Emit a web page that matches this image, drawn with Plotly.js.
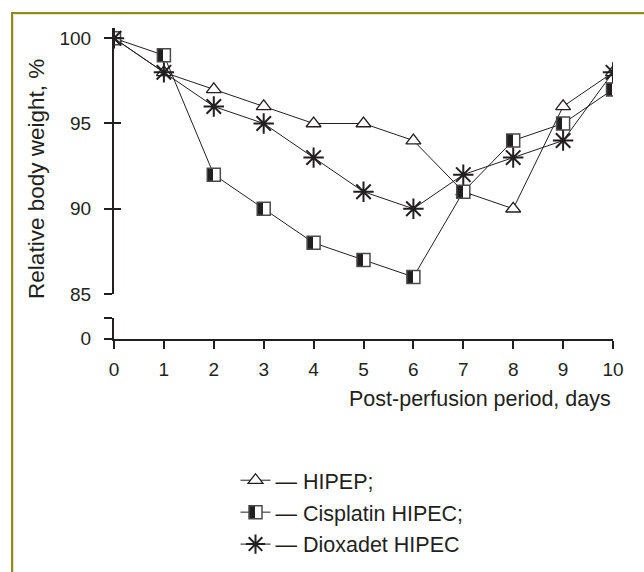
<!DOCTYPE html>
<html>
<head>
<meta charset="utf-8">
<script src="https://cdn.plot.ly/plotly-3.0.1.min.js"></script>
<style>
  html, body { margin:0; padding:0; background:#ffffff; }
  #wrap { position:relative; width:644px; height:572px; overflow:hidden; }
  #frame { position:absolute; left:11px; top:12px; width:700px; height:700px;
           border-top:2px solid #8d8a22; border-left:2px solid #8d8a22;
           box-shadow: inset 1px 1px 0 #ebe6c2; pointer-events:none; z-index:5; }
  #chart { position:absolute; left:0; top:0; width:644px; height:572px; }
</style>
</head>
<body>
<div id="wrap">
  <div id="chart"></div>
  <div id="frame"></div>
</div>
<script>
const days = [0,1,2,3,4,5,6,7,8,9,10];
const hipep = [100,98,97,96,95,95,94,91,90,96,98];
const cisplatin = [100,99,92,90,88,87,86,91,94,95,97];
const dioxadet = [100,98,96,95,93,91,90,92,93,94,98];
const seriesNames = ['HIPEP;', 'Cisplatin HIPEC;', 'Dioxadet HIPEC'];
const upperTicks = [85,90,95,100];
const lowerTicks = [0, 1];
const lowerTickText = ['0', ''];
const xTitle = 'Post-perfusion period, days';
const yTitle = 'Relative body weight, %';

const ink = '#231f20';
const FONT = 'Liberation Sans, Arial, sans-serif';

const traces = [
  {x: days, y: hipep, name: '— ' + seriesNames[0], mode: 'lines+markers', legendgroup: 'a',
   line: {color: ink, width: 1},
   marker: {symbol: 'triangle-up', size: 13, color: '#ffffff', line: {color: ink, width: 1.3}}},
  {x: days, y: cisplatin, name: '— ' + seriesNames[1], mode: 'lines+markers', legendgroup: 'b',
   line: {color: ink, width: 1},
   marker: {symbol: 'square', size: 13, color: ink, gradient: {type: 'horizontal', color: '#ffffff'},
            line: {color: '#4a4a4a', width: 1.5}}},
  {x: days, y: dioxadet, name: '— ' + seriesNames[2], mode: 'lines+markers', legendgroup: 'c',
   line: {color: ink, width: 1},
   marker: {symbol: 'asterisk-open', size: 17, color: ink, line: {color: ink, width: 2}}},
  // empty traces so that the broken-axis pieces and the crossing ticks get drawn
  {x: [], y: [], yaxis: 'y2', showlegend: false, hoverinfo: 'skip', mode: 'markers'},
  {x: [], y: [], yaxis: 'y3', showlegend: false, hoverinfo: 'skip', mode: 'markers'},
  {x: [], y: [], yaxis: 'y4', showlegend: false, hoverinfo: 'skip', mode: 'markers'}
];

const axisCommon = {showgrid: false, zeroline: false, showline: true, linecolor: ink, linewidth: 2,
  tickcolor: ink, tickwidth: 2, tickfont: {family: FONT, size: 19, color: ink}};
const innerTicks = {anchor: 'x', side: 'left', ticks: 'inside', ticklen: 7, tickwidth: 2, tickcolor: ink,
  showticklabels: false, showline: false, showgrid: false, zeroline: false};

// plot area spans pixel rows 28..565; axis pieces are placed by domain inside it
const layout = {
  width: 644, height: 572,
  margin: {l: 114, r: 31, t: 28, b: 7},
  paper_bgcolor: 'rgba(0,0,0,0)', plot_bgcolor: 'rgba(0,0,0,0)',
  font: {family: FONT, color: ink, size: 21},
  showlegend: true,
  legend: {x: 0.2435, xanchor: 'left', y: 0.19, yanchor: 'top',
           bgcolor: 'rgba(0,0,0,0)', font: {family: FONT, size: 21.5, color: ink}, tracegroupgap: 1},
  xaxis: Object.assign({}, axisCommon, {domain: [0,1], range: [0,10], anchor: 'y2',
    tickvals: days, ticks: 'outside', ticklen: 8, ticklabelstandoff: 5, title: {text: ''}}),
  yaxis: Object.assign({}, axisCommon, {domain: [0.50093, 1], range: [85, 100.6], anchor: 'x',
    tickvals: upperTicks, ticks: 'outside', ticklen: 8, ticklabelstandoff: 9, title: {text: ''}}),
  yaxis3: Object.assign({}, innerTicks, {overlaying: 'y', range: [85, 100.6], tickvals: upperTicks}),
  yaxis2: Object.assign({}, axisCommon, {domain: [0.4172, 0.45624], range: [0, 1], anchor: 'x',
    tickvals: lowerTicks, ticktext: lowerTickText, ticks: 'outside', ticklen: 8, ticklabelstandoff: 9}),
  yaxis4: Object.assign({}, innerTicks, {overlaying: 'y2', range: [0, 1], tickvals: [lowerTicks[1]]}),
  annotations: [
    {text: xTitle, xref: 'paper', yref: 'paper', x: 1, y: 0.3035, xanchor: 'right', yanchor: 'middle',
     showarrow: false, font: {family: FONT, size: 21.5, color: ink}},
    {text: yTitle, xref: 'paper', yref: 'paper', x: -0.1543, y: 0.7169, xanchor: 'center', yanchor: 'middle',
     textangle: -90, showarrow: false, font: {family: FONT, size: 22.5, color: ink}}
  ]
};

Plotly.newPlot('chart', traces, layout, {displayModeBar: false, staticPlot: true}).then(function(gd){
  // make the square markers half-filled (sharp split) instead of a smooth gradient
  gd.querySelectorAll('linearGradient').forEach(function(g){
    g.setAttribute('x1', '0'); g.setAttribute('y1', '0');
    g.setAttribute('x2', '1'); g.setAttribute('y2', '0');
    while (g.firstChild) g.removeChild(g.firstChild);
    [['0%', ink], ['45%', ink], ['45%', '#ffffff'], ['100%', '#ffffff']].forEach(function(s){
      const st = document.createElementNS('http://www.w3.org/2000/svg', 'stop');
      st.setAttribute('offset', s[0]);
      st.setAttribute('stop-color', s[1]);
      g.appendChild(st);
    });
  });
});
</script>
</body>
</html>
